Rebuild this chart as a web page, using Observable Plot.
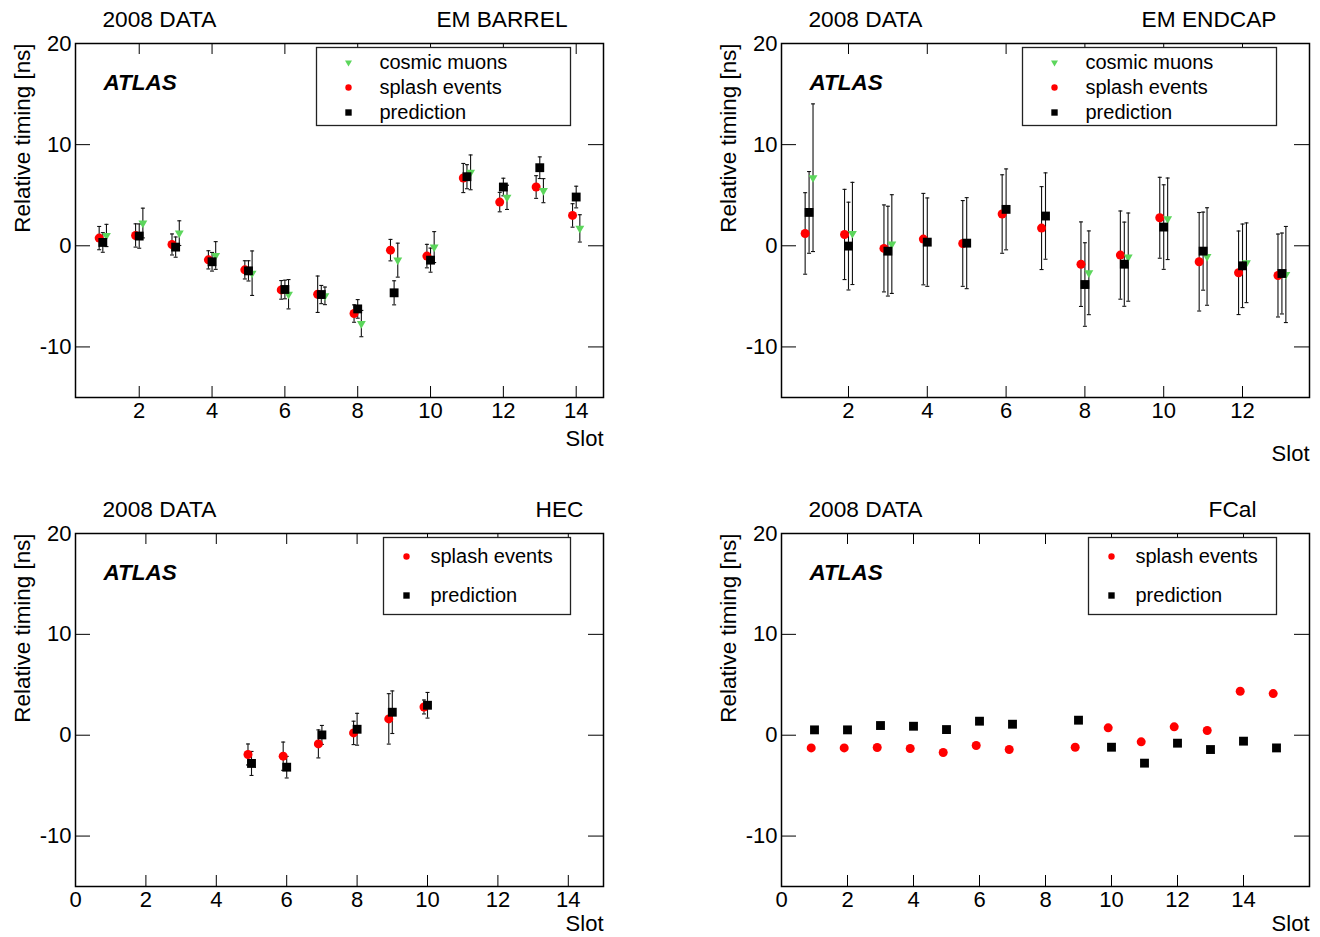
<!DOCTYPE html>
<html><head><meta charset="utf-8">
<script src="https://cdn.jsdelivr.net/npm/d3@7"></script>
<script src="https://cdn.jsdelivr.net/npm/@observablehq/plot@0.6"></script>
<style>
body{margin:0;background:#fff;}
#root{position:relative;width:1320px;height:937px;overflow:hidden;}
.panel{position:absolute;}
</style></head><body><div id="root"></div>
<script>
// ---------- data ----------
const yTicks = [-10, 0, 10, 20];

const barrelSlots = [1,2,3,4,5,6,7,8,9,10,11,12,13,14];
const barrelSplash    = [0.76, 1.02, 0.13, -1.39, -2.38, -4.36, -4.79, -6.70, -0.43, -1.02, 6.70, 4.32, 5.81, 3.00];
const barrelSplashErr = [1.15, 1.15, 1.04, 0.90, 0.90, 0.92, 1.80, 0.86, 1.06, 1.16, 1.44, 0.96, 1.12, 1.16];
const barrelPred      = [0.33, 0.96, -0.13, -1.58, -2.48, -4.32, -4.82, -6.24, -4.65, -1.42, 6.83, 5.81, 7.72, 4.82];
const barrelPredErr   = [0.97, 1.20, 1.00, 0.92, 1.00, 0.92, 0.90, 0.92, 1.19, 1.19, 1.19, 0.87, 1.07, 1.07];
const barrelCosmic    = [1.02, 2.25, 1.25, -0.96, -2.71, -4.79, -4.95, -7.69, -1.42, -0.13, 7.26, 4.79, 5.45, 1.72];
const barrelCosmicErr = [1.10, 1.47, 1.22, 1.37, 2.20, 1.45, 0.87, 1.30, 1.68, 1.53, 1.72, 1.20, 1.19, 1.35];

const endcapSlots = [1,2,3,4,5,6,7,8,9,10,11,12,13];
const endcapSplash    = [1.22, 1.12, -0.26, 0.66, 0.23, 3.14, 1.75, -1.82, -0.92, 2.77, -1.58, -2.67, -2.94];
const endcapSplashErr = [4.03, 4.46, 4.30, 4.52, 4.24, 3.88, 4.10, 4.18, 4.36, 4.00, 4.87, 4.13, 4.10];
const endcapPred      = [3.30, -0.03, -0.53, 0.36, 0.26, 3.60, 2.94, -3.83, -1.82, 1.85, -0.53, -1.98, -2.74];
const endcapPredErr   = [4.04, 4.34, 4.44, 4.37, 4.50, 4.00, 4.27, 4.13, 4.16, 4.18, 3.86, 4.13, 4.00];
const endcapCosmicSlots = [1,2,3,8,9,10,11,12,13];
const endcapCosmic    = [6.73, 1.22, 0.17, -2.67, -1.12, 2.67, -1.06, -1.68, -2.84];
const endcapCosmicErr = [7.30, 5.05, 4.88, 4.14, 4.36, 4.03, 4.82, 3.94, 4.75];

const hecSlots = [5,6,7,8,9,10];
const hecSplash    = [-1.91, -2.08, -0.86, 0.23, 1.62, 2.80];
const hecSplashErr = [1.04, 1.40, 1.39, 1.16, 2.50, 0.69];
const hecPred      = [-2.80, -3.17, 0.03, 0.59, 2.28, 2.97];
const hecPredErr   = [1.19, 1.07, 0.94, 1.58, 2.11, 1.27];

const fcalSlots = [1,2,3,4,5,6,7,9,10,11,12,13,14,15];
const fcalSplash = [-1.26,-1.26,-1.22,-1.32,-1.71,-1.02,-1.42,-1.19,0.73,-0.66,0.83,0.47,4.36,4.13];
const fcalPred   = [0.53,0.53,0.96,0.89,0.56,1.39,1.09,1.49,-1.19,-2.77,-0.79,-1.42,-0.59,-1.26];

// ---------- styling ----------
const RED = "#ff0000", GREEN = "#5cd65c", BLACK = "#000000";
const FONT = "'Liberation Sans', Arial, Helvetica, sans-serif";
const W = 528; // frame width

function rows(slots, vals, errs, off) {
  return slots.map((s, i) => ({x: s + off, y: vals[i], e: errs ? errs[i] : null}));
}

const cap = {draw(ctx) { ctx.moveTo(-2, 0); ctx.lineTo(2, 0); }};

const styles = {
  cosmic: {symbol: "triangle", r: 3.3, fill: GREEN, rotate: 180, lr: 2.6},
  splash: {symbol: "circle", r: 4.5, fill: RED, rotate: 0, lr: 3.2},
  pred:   {symbol: "square", r: 5.0, fill: BLACK, rotate: 0, lr: 3.6}
};

function panel(cfg) {
  const H = cfg.height - 43 - cfg.marginBottom;
  const marks = [];
  // inward ticks on all four sides
  marks.push(Plot.tickX(cfg.xTicks, {x: d => d, insetTop: H - 11, stroke: BLACK}));
  marks.push(Plot.tickX(cfg.xTicks, {x: d => d, insetBottom: H - 11, stroke: BLACK}));
  marks.push(Plot.tickY(yTicks, {y: d => d, insetRight: W - 15, stroke: BLACK}));
  marks.push(Plot.tickY(yTicks, {y: d => d, insetLeft: W - 15, stroke: BLACK}));
  marks.push(Plot.axisX({ticks: cfg.xTicks, tickSize: 0, tickPadding: 5, tickFormat: d => String(d), label: null, fontSize: 22}));
  marks.push(Plot.axisY({ticks: yTicks, tickSize: 0, tickPadding: 4, tickFormat: d => String(d), label: null, fontSize: 22}));
  marks.push(Plot.frame({stroke: BLACK, strokeWidth: 1.5}));
  // error bars
  for (const s of cfg.series) {
    const d = s.data.filter(r => r.e != null);
    if (!d.length) continue;
    marks.push(Plot.ruleX(d, {x: "x", y1: r => r.y - r.e, y2: r => r.y + r.e, stroke: "#111", strokeWidth: 1.1}));
    marks.push(Plot.dot(d, {x: "x", y: r => r.y - r.e, symbol: cap, stroke: "#111", strokeWidth: 1.1, r: 3}));
    marks.push(Plot.dot(d, {x: "x", y: r => r.y + r.e, symbol: cap, stroke: "#111", strokeWidth: 1.1, r: 3}));
  }
  // markers
  for (const s of cfg.series) {
    const st = styles[s.kind];
    marks.push(Plot.dot(s.data, {x: "x", y: "y", symbol: st.symbol, r: st.r, fill: st.fill, rotate: st.rotate, stroke: "none"}));
  }
  // legend
  const L = cfg.legend;
  marks.push(Plot.frame({fill: "white", stroke: "#222", strokeWidth: 1.3,
    insetLeft: L.left, insetRight: L.right, insetTop: L.top, insetBottom: H - L.bottom}));
  L.items.forEach((it, i) => {
    const st = styles[it.kind];
    marks.push(Plot.dot([it.label], {frameAnchor: "top-left", dx: L.mx, dy: L.rows[i], symbol: st.symbol, r: st.lr, fill: st.fill, rotate: st.rotate, stroke: "none"}));
    marks.push(Plot.text([it.label], {text: d => d, frameAnchor: "top-left", dx: L.tx, dy: L.rows[i], textAnchor: "start", lineAnchor: "middle", fontSize: 20, fill: BLACK}));
  });
  // texts
  marks.push(Plot.text(["2008 DATA"], {text: d => d, frameAnchor: "top-left", dx: 27, dy: -24, textAnchor: "start", lineAnchor: "middle", fontSize: 22.7, fill: BLACK}));
  marks.push(Plot.text([cfg.region], {text: d => d, frameAnchor: "top-right", dx: cfg.regionDx, dy: -24, textAnchor: "end", lineAnchor: "middle", fontSize: 22.7, fill: BLACK}));
  marks.push(Plot.text(["ATLAS"], {text: d => d, frameAnchor: "top-left", dx: 28, dy: 39, textAnchor: "start", lineAnchor: "middle", fontSize: 22.5, fontWeight: "bold", fontStyle: "italic", fill: BLACK}));
  marks.push(Plot.text(["Relative timing [ns]"], {text: d => d, frameAnchor: "top-left", dx: -53, dy: 0, rotate: -90, textAnchor: "end", lineAnchor: "middle", fontSize: 22.4, fill: BLACK}));
  marks.push(Plot.text(["Slot"], {text: d => d, frameAnchor: "bottom-right", dx: 0, dy: cfg.slotDy, textAnchor: "end", lineAnchor: "middle", fontSize: 22, fill: BLACK}));

  const svg = Plot.plot({
    width: 660, height: cfg.height,
    marginLeft: 75, marginRight: 57, marginTop: 43, marginBottom: cfg.marginBottom,
    x: {type: "linear", domain: cfg.xDomain},
    y: {type: "linear", domain: [-15, 20]},
    style: {fontFamily: FONT, fontSize: "22px", color: "#000", background: "white", overflow: "visible"},
    marks
  });
  svg.classList.add("panel");
  svg.style.left = cfg.left + "px";
  svg.style.top = cfg.top + "px";
  document.getElementById("root").appendChild(svg);
}

const legend3 = () => ({left: 241, right: 33, top: 4, bottom: 82, mx: 273, tx: 304, rows: [19, 44, 69],
  items: [{kind: "cosmic", label: "cosmic muons"}, {kind: "splash", label: "splash events"}, {kind: "pred", label: "prediction"}]});
const legend2 = (left) => ({left: left, right: 33, top: 4, bottom: 81, mx: left + 23, tx: left + 47, rows: [23, 62],
  items: [{kind: "splash", label: "splash events"}, {kind: "pred", label: "prediction"}]});

panel({left: 0, top: 0, height: 470, marginBottom: 73, xDomain: [0.25, 14.75], xTicks: [2,4,6,8,10,12,14],
  region: "EM BARREL", regionDx: -36, slotDy: 41, legend: legend3(),
  series: [
    {kind: "splash", data: rows(barrelSlots, barrelSplash, barrelSplashErr, -0.1)},
    {kind: "cosmic", data: rows(barrelSlots, barrelCosmic, barrelCosmicErr, 0.1)},
    {kind: "pred", data: rows(barrelSlots, barrelPred, barrelPredErr, 0)}
  ]});

panel({left: 706, top: 0, height: 470, marginBottom: 73, xDomain: [0.3, 13.7], xTicks: [2,4,6,8,10,12],
  region: "EM ENDCAP", regionDx: -33, slotDy: 56, legend: legend3(),
  series: [
    {kind: "splash", data: rows(endcapSlots, endcapSplash, endcapSplashErr, -0.1)},
    {kind: "cosmic", data: rows(endcapCosmicSlots, endcapCosmic, endcapCosmicErr, 0.1)},
    {kind: "pred", data: rows(endcapSlots, endcapPred, endcapPredErr, 0)}
  ]});

panel({left: 0, top: 490, height: 447, marginBottom: 51, xDomain: [0, 15], xTicks: [0,2,4,6,8,10,12,14],
  region: "HEC", regionDx: -20, slotDy: 37, legend: legend2(308),
  series: [
    {kind: "splash", data: rows(hecSlots, hecSplash, hecSplashErr, -0.1)},
    {kind: "pred", data: rows(hecSlots, hecPred, hecPredErr, 0)}
  ]});

panel({left: 706, top: 490, height: 447, marginBottom: 51, xDomain: [0, 16], xTicks: [0,2,4,6,8,10,12,14],
  region: "FCal", regionDx: -53, slotDy: 37, legend: legend2(307),
  series: [
    {kind: "splash", data: rows(fcalSlots, fcalSplash, null, -0.1)},
    {kind: "pred", data: rows(fcalSlots, fcalPred, null, 0)}
  ]});
</script></body></html>
